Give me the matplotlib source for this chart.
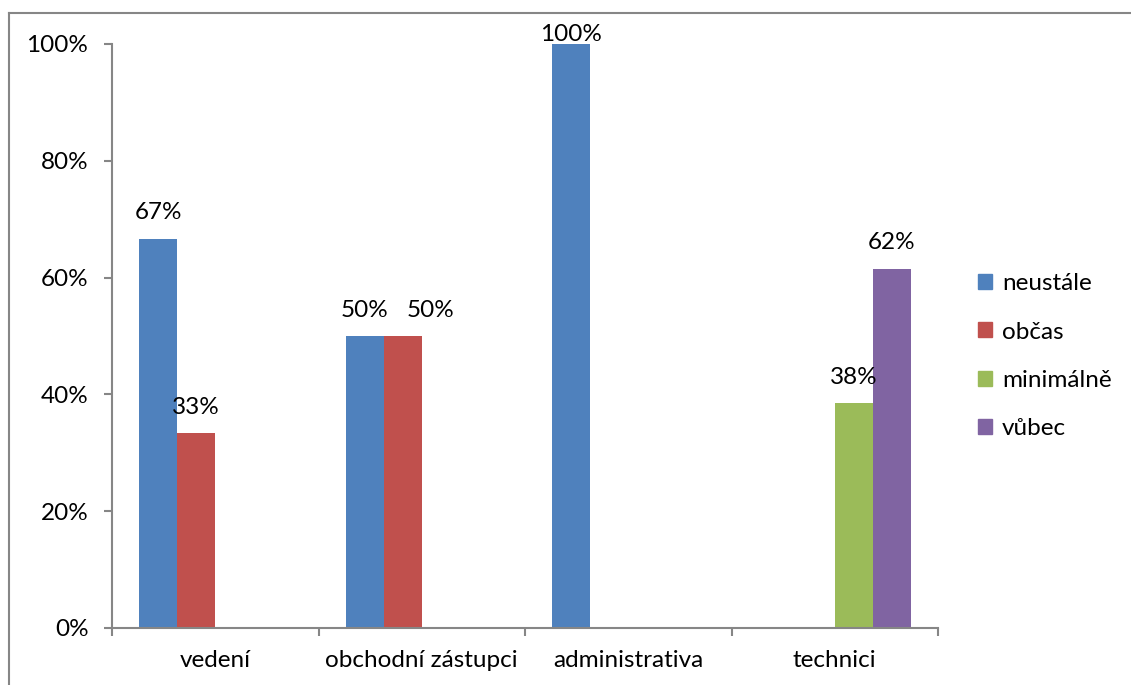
import matplotlib
matplotlib.use("Agg")
import matplotlib.pyplot as plt
import numpy as np
from matplotlib.lines import Line2D

categories = ["vedení", "obchodní zástupci", "administrativa", "technici"]
series_names = ["neustále", "občas", "minimálně", "vůbec"]
neustale = [66.67, 50.0, 100.0, 0.0]
obcas = [33.33, 50.0, 0.0, 0.0]
minimalne = [0.0, 0.0, 0.0, 38.46]
vubec = [0.0, 0.0, 0.0, 61.54]
series_values = [neustale, obcas, minimalne, vubec]
colors = ["#4F81BD", "#C0504D", "#9BBB59", "#8064A2"]
yticks = [0, 20, 40, 60, 80, 100]
ytick_labels = ["0%", "20%", "40%", "60%", "80%", "100%"]

plt.rcParams['font.family'] = ['Lato', 'DejaVu Sans']
FS = 17.5

fig = plt.figure(figsize=(11.31, 6.85), dpi=100)
ax = fig.add_axes([112/1131, 1-628/685, (938-112)/1131, (628-44)/685])

x = np.arange(len(categories))
w = 38/207
# horizontal nudge (points) for labels that would collide with a neighbour
label_dx = {(1, 1): 20}
for i, (name, vals, c) in enumerate(zip(series_names, series_values, colors)):
    pos = x + (i - 1.5) * w
    ax.bar(pos, vals, width=w, color=c, label=name, linewidth=0)
    for j, (p, v) in enumerate(zip(pos, vals)):
        if v > 0:
            off = -1 if v >= 99.5 else 11
            ax.annotate(f"{v:.0f}%", (p, v), xytext=(label_dx.get((i, j), 0), off),
                        textcoords="offset points",
                        ha="center", va="bottom", fontsize=FS, color="black", clip_on=False)

ax.set_xlim(-0.5, len(categories) - 0.5)
ax.set_ylim(0, 100)
ax.set_yticks(yticks)
ax.set_yticklabels(ytick_labels, fontsize=FS)
ax.set_xticks(np.arange(-0.5, len(categories), 1.0))
ax.set_xticklabels([])
ax.set_xticks(x, minor=True)
ax.set_xticklabels(categories, minor=True, fontsize=FS)
ax.tick_params(axis='x', which='minor', length=0, pad=16)
ax.tick_params(axis='x', which='major', length=6, width=1.5, color="#868686", direction='out')
ax.tick_params(axis='y', length=6, width=1.5, color="#868686", direction='out', pad=11)
for s in ["top", "right"]:
    ax.spines[s].set_visible(False)
for s in ["left", "bottom"]:
    ax.spines[s].set_color("#868686")
    ax.spines[s].set_linewidth(1.5)

handles = [plt.Rectangle((0, 0), 1, 1, color=c) for c in colors]
fig.legend(handles, series_names, loc="upper left", bbox_to_anchor=(971/1131, 1-266/685),
           frameon=False, fontsize=FS, handlelength=0.57, handleheight=0.57,
           handletextpad=0.4, labelspacing=1.12, borderaxespad=0, borderpad=0.3)

# outer chart border
fig.add_artist(Line2D([9/1131, 1], [1-13/685, 1-13/685], color="#868686", lw=1.5, transform=fig.transFigure))
fig.add_artist(Line2D([9/1131, 9/1131], [0, 1-13/685], color="#868686", lw=1.5, transform=fig.transFigure))

fig.savefig("out.png", dpi=100)
